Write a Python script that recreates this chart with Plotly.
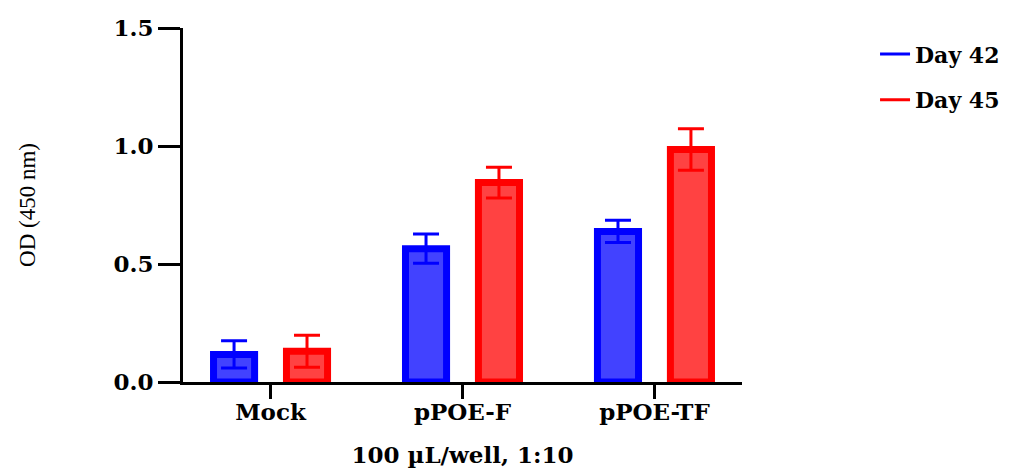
import plotly.graph_objects as go

categories = ["Mock", "pPOE-F", "pPOE-TF"]
series_names = ["Day 42", "Day 45"]
day42_values = [0.117, 0.565, 0.638]
day42_errors = [0.058, 0.062, 0.047]
day45_values = [0.130, 0.845, 0.985]
day45_errors = [0.068, 0.065, 0.088]
y_tick_values = [0.0, 0.5, 1.0, 1.5]
y_tick_labels = ["0.0", "0.5", "1.0", "1.5"]
x_title = "100 µL/well, 1:10"
y_title = "OD (450 nm)"

BOLD_FONT = "DejaVu Serif"
line_colors = ["#0000FF", "#FF0000"]
fill_colors = ["#4242FF", "#FF4242"]
offsets = [-0.297, 0.083]
bar_width = 0.214

x_pos = list(range(len(categories)))
fig = go.Figure()
for name, vals, errs, lc, fc, off in zip(
    series_names, [day42_values, day45_values], [day42_errors, day45_errors],
    line_colors, fill_colors, offsets):
    fig.add_trace(go.Bar(
        x=x_pos, y=vals, name=name, showlegend=False,
        width=bar_width, offset=off,
        marker=dict(color=fc, line=dict(color=lc, width=7)),
        error_y=dict(type="data", array=errs, visible=True,
                     color=lc, thickness=3, width=13),
    ))
    # legend entry drawn as a short line like the reference
    fig.add_trace(go.Scatter(
        x=[None], y=[None], mode="lines", name=name, legendgroup=name,
        line=dict(color=lc, width=3),
    ))

fig.update_layout(
    barmode="overlay",
    width=1022, height=468,
    margin=dict(l=183, r=280, t=28, b=86),
    paper_bgcolor="white", plot_bgcolor="white",
    showlegend=True,
    legend=dict(
        x=1.238, xanchor="left", y=0.985, yanchor="top",
        font=dict(family=BOLD_FONT, size=22, color="black", weight="bold"),
        tracegroupgap=14, bgcolor="rgba(0,0,0,0)",
    ),
)
fig.update_xaxes(
    range=[-0.456, 2.456],
    tickmode="array", tickvals=x_pos, ticktext=categories,
    showline=True, linecolor="black", linewidth=3,
    ticks="outside", ticklen=14, tickwidth=3, tickcolor="black",
    ticklabelstandoff=-7,
    showgrid=False, zeroline=False, automargin=False,
    tickfont=dict(family=BOLD_FONT, size=23, color="black", weight="bold"),
    title=dict(text=x_title, standoff=28,
               font=dict(family=BOLD_FONT, size=23, color="black", weight="bold")),
)
fig.update_yaxes(
    range=[0, 1.5],
    tickmode="array", tickvals=y_tick_values, ticktext=y_tick_labels,
    showline=True, linecolor="black", linewidth=3,
    ticks="outside", ticklen=22, tickwidth=3, tickcolor="black",
    showgrid=False, zeroline=False, automargin=False,
    tickfont=dict(family=BOLD_FONT, size=23, color="black", weight="bold"),
    title=dict(text=y_title, standoff=72,
               font=dict(family="Liberation Serif", size=23, color="black")),
)
fig.write_html("out.html")
